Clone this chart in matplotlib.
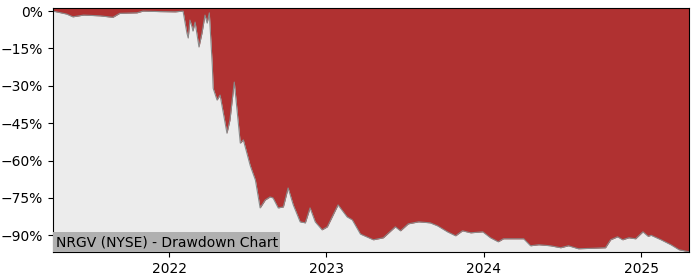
import matplotlib
matplotlib.use('Agg')
import matplotlib.pyplot as plt
import matplotlib.dates as mdates
from matplotlib.ticker import PercentFormatter, MultipleLocator
import pandas as pd

# Data (drawdown in %)
dates = [
    '2021-04-06', '2021-04-22', '2021-05-08', '2021-05-22', '2021-06-16',
    '2021-07-24', '2021-08-23', '2021-09-08', '2021-10-18', '2021-11-01',
    '2021-12-10', '2022-01-15', '2022-02-02', '2022-02-11', '2022-02-14',
    '2022-02-18', '2022-02-23', '2022-02-25', '2022-03-02', '2022-03-11',
    '2022-03-18', '2022-03-25', '2022-03-30', '2022-04-04', '2022-04-11',
    '2022-04-13', '2022-04-22', '2022-04-29', '2022-05-15', '2022-05-22',
    '2022-06-01', '2022-06-15', '2022-06-22', '2022-07-08', '2022-07-20',
    '2022-07-31', '2022-08-12', '2022-08-23', '2022-08-30', '2022-09-11',
    '2022-09-23', '2022-10-04', '2022-10-16', '2022-11-01', '2022-11-13',
    '2022-11-24', '2022-12-06', '2022-12-22', '2023-01-03', '2023-01-28',
    '2023-02-18', '2023-03-02', '2023-03-21', '2023-04-20', '2023-05-13',
    '2023-06-10', '2023-06-22', '2023-07-10', '2023-08-03', '2023-08-30',
    '2023-09-16', '2023-10-09', '2023-10-28', '2023-11-13', '2023-12-02',
    '2023-12-30', '2024-01-17', '2024-02-04', '2024-02-16', '2024-03-20',
    '2024-04-03', '2024-04-19', '2024-05-08', '2024-06-04', '2024-06-28',
    '2024-07-16', '2024-08-08', '2024-09-12', '2024-10-10', '2024-10-22',
    '2024-11-07', '2024-11-19', '2024-12-03', '2024-12-19', '2025-01-05',
    '2025-01-17', '2025-01-24', '2025-02-16', '2025-03-11', '2025-03-30',
    '2025-04-22',
]
drawdown = [
    0.0, -0.6, -1.2, -2.3, -1.6,
    -1.9, -2.5, -0.9, -0.7, 0.0,
    -0.2, -0.3, 0.0, -8.8, -10.8,
    -3.6, -6.4, -8.0, -4.4, -14.4,
    -8.8, -1.6, -4.8, -0.7, -22.0,
    -31.0, -35.7, -33.7, -49.0, -43.7,
    -28.5, -53.0, -51.7, -62.0, -67.8,
    -79.0, -75.8, -74.6, -75.0, -79.0,
    -78.6, -71.0, -77.8, -84.6, -85.0,
    -79.0, -84.6, -87.8, -86.6, -77.8,
    -82.6, -83.8, -89.5, -91.8, -91.0,
    -86.6, -88.2, -85.4, -84.6, -85.0,
    -86.2, -88.6, -90.2, -88.2, -89.0,
    -88.6, -91.0, -92.6, -91.4, -91.4,
    -91.4, -94.2, -93.8, -94.2, -95.0,
    -94.2, -95.4, -95.2, -95.0, -91.8,
    -90.6, -91.8, -91.0, -91.4, -88.6,
    -90.4, -90.0, -91.8, -93.8, -95.8,
    -96.6,
]
title = 'NRGV (NYSE) - Drawdown Chart'

x = pd.to_datetime(dates)
ymin, ymax = -96.7, 1.2

fig = plt.figure(figsize=(7, 2.8), dpi=100)
ax = fig.add_axes([0.0757, 0.1, 0.9086, 0.871])
ax.set_facecolor('#ececec')

# red area from the drawdown line up to the top
ax.fill_between(x, drawdown, ymax, color='#b03131', linewidth=0)
ax.plot(x, drawdown, color='#8a8a8a', linewidth=0.8)

ax.set_xlim(x[0], x[-1])
ax.set_ylim(ymin, ymax)
ax.yaxis.set_major_locator(MultipleLocator(15))
ax.yaxis.set_major_formatter(PercentFormatter(xmax=100, decimals=0))
ax.xaxis.set_major_locator(mdates.YearLocator())
ax.xaxis.set_major_formatter(mdates.DateFormatter('%Y'))
ax.tick_params(labelsize=10)

ax.text(0.004, 0.012, title, transform=ax.transAxes, fontsize=10,
        ha='left', va='bottom',
        bbox=dict(facecolor='#b0b0b0', edgecolor='none', pad=2))

fig.savefig('out.png', dpi=100)
